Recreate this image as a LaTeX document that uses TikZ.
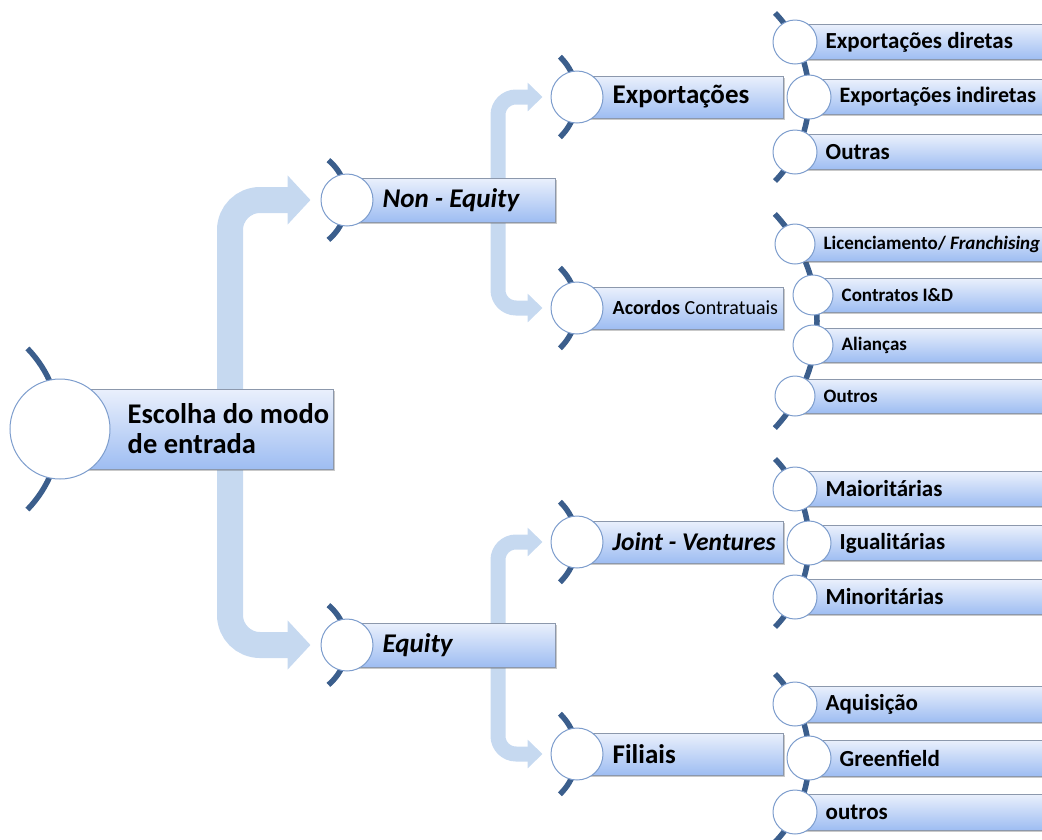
\documentclass[tikz,border=0pt]{standalone}
\usepackage{fontspec}
\setmainfont{Carlito}
\usetikzlibrary{arrows.meta,positioning,shadows,backgrounds}
\definecolor{trunkblue}{RGB}{198,217,240}
\definecolor{arcblue}{RGB}{59,94,140}
\definecolor{ringblue}{RGB}{125,157,205}
\definecolor{bartop}{RGB}{234,240,252}
\definecolor{barbot}{RGB}{158,189,242}
\definecolor{barline}{RGB}{140,152,172}

\tikzset{
  hub/.style={circle,draw=ringblue,line width=1pt,fill=white,inner sep=0pt},
  bar/.style={rectangle,draw=barline,line width=0.8pt,top color=bartop,bottom color=barbot,
              inner sep=0pt,anchor=west,
              drop shadow={shadow xshift=1.5pt,shadow yshift=-1.5pt,opacity=0.3,fill=black!70}},
  lbl/.style={anchor=west,inner sep=0pt,font=\bfseries},
  trunk/.style={line width=26pt,trunkblue,rounded corners=30pt,-{Triangle[length=23pt,width=48pt]}},
  twig/.style={line width=15pt,trunkblue,rounded corners=18pt,-{Triangle[length=15pt,width=28pt]}},
  rim/.style={arcblue,line width=5.5pt},
}

\begin{document}
\begin{tikzpicture}[x=1pt,y=-1pt]
  \clip (0,0) rectangle (1042,839);
  % root
  \node[bar,minimum width=273pt,minimum height=80pt] (rootbar) at (60,429) {};
  \node[hub,minimum size=100pt] (root) at (60,429) {};
  \node[lbl,align=left,font=\bfseries\fontsize{28.5}{30}\selectfont] (roottxt)
        at ([xshift=17pt]root.east) {Escolha do modo\\de entrada};
  % first split
  \foreach \n/\y/\t in {noneq/200/Non - Equity, eq/645/Equity}{
    \node[bar,minimum width=208pt,minimum height=44pt] (\n bar) at (347,\y) {};
    \node[hub,minimum size=52pt] (\n) at (347,\y) {};
    \node[lbl,font=\bfseries\itshape\fontsize{27}{30}\selectfont] at ([xshift=9pt]\n.east) {\t};
  }
  % second split
  \foreach \n/\y/\t in {exp/97/{\fontsize{27}{30}\selectfont Exportações},
                        acord/308/{\fontsize{20}{22}\selectfont Acordos \mdseries Contratuais},
                        jv/542/{\fontsize{25.5}{28}\selectfont\itshape Joint - Ventures},
                        fil/754/{\fontsize{27}{30}\selectfont Filiais}}{
    \node[bar,minimum width=206pt,minimum height=42pt] (\n bar) at (577,\y) {};
    \node[hub,minimum size=52pt] (\n) at (577,\y) {};
    \node[lbl] at ([xshift=9pt]\n.east) {\t};
  }
  % leaves
  \foreach \x/\y/\r/\h/\f/\t [count=\i] in {
      795/42/22/35/23/Exportações diretas,
      809/97/22/35/22/Exportações indiretas,
      795/152/22/35/23/Outras,
      795/244/20/34/19/{Licenciamento/ \textit{Franchising}},
      813/295/20/34/19/Contratos I\&D,
      813/345/20/34/19/Alianças,
      795/396/20/34/19/Outros,
      795/489/22/35/23/Maioritárias,
      809/543/22/35/23/Igualitárias,
      795/597/22/35/23/Minoritárias,
      795/704/22/36/23/Aquisição,
      809/758/22/36/23/Greenfield,
      795/812/22/36/23/outros}{
    \node[bar,minimum width=260pt,minimum height=\h pt] (leafbar\i) at (\x,\y) {};
    \node[hub,minimum size=2*\r pt] (leaf\i) at (\x,\y) {};
    \node[lbl,font=\bfseries\fontsize{\f}{\f}\selectfont] at ([xshift=8pt]leaf\i.east) {\t};
  }
  \begin{pgfonlayer}{background}
    % broad arrows
    \coordinate (fork) at (230,429);
    \draw[trunk] (fork) |- ([xshift=-10pt]noneq.west);
    \draw[trunk] (fork) |- ([xshift=-10pt]eq.west);
    \coordinate (forkA) at (498,200);
    \coordinate (forkB) at (498,645);
    \draw[twig] (forkA) |- ([xshift=-8pt]exp.west);
    \draw[twig] (forkA) |- ([xshift=-8pt]acord.west);
    \draw[twig] (forkB) |- ([xshift=-8pt]jv.west);
    \draw[twig] (forkB) |- ([xshift=-8pt]fil.west);
    % accent arcs
    \draw[rim] (root.center) ++(-116pt,0pt) ++(44:116pt) arc[start angle=44,end angle=-44,radius=116pt];
    \foreach \n in {noneq,eq}
      \draw[rim] (\n.center) ++(-52pt,0pt) ++(50:52pt) arc[start angle=50,end angle=-50,radius=52pt];
    \foreach \n in {exp,acord,jv,fil}
      \draw[rim] (\n.center) ++(-56pt,0pt) ++(46:56pt) arc[start angle=46,end angle=-46,radius=56pt];
    \foreach \n in {leaf2,leaf9,leaf12}
      \draw[rim] (\n.center) ++(-121pt,0pt) ++(44:121pt) arc[start angle=44,end angle=-44,radius=121pt];
    \draw[rim] (660,321) ++(43:157pt) arc[start angle=43,end angle=-43,radius=157pt];
  \end{pgfonlayer}
\end{tikzpicture}
\end{document}
